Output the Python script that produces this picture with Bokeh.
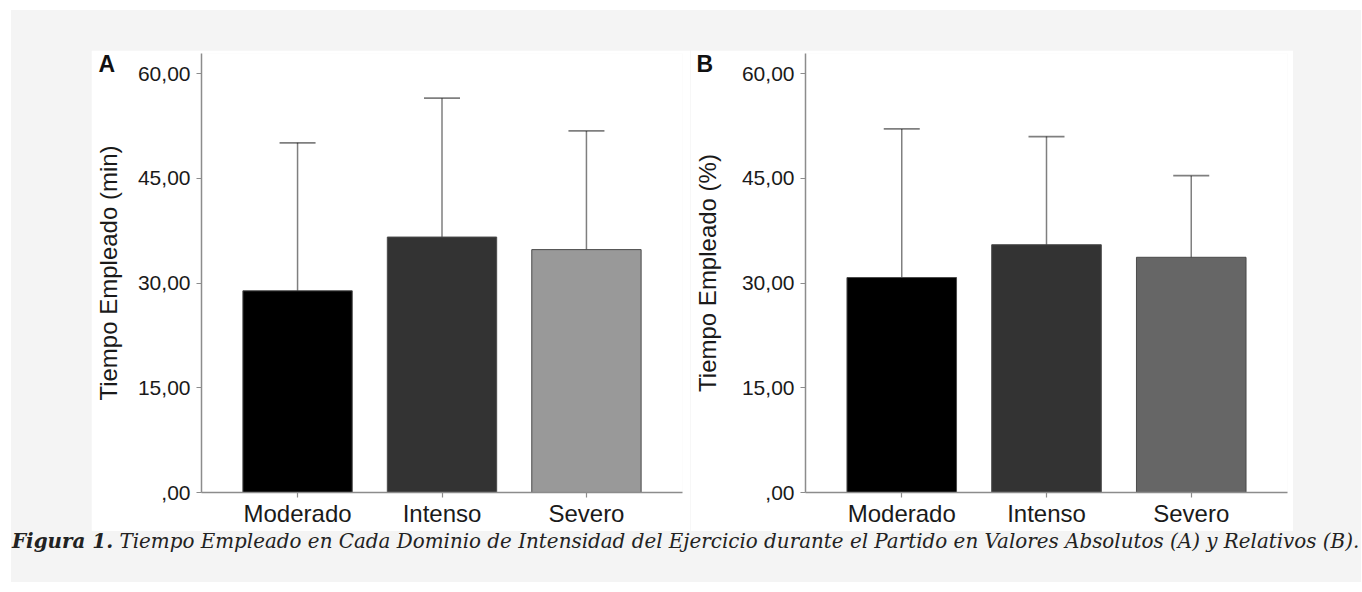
from bokeh.plotting import figure
from bokeh.models import (ColumnDataSource, FactorRange, Range1d, FixedTicker, Whisker,
                          TeeHead, Title, Div, Spacer, Row, Column)
from bokeh.embed import file_html
from bokeh.resources import INLINE

# ---- data ----
categories = ["Moderado", "Intenso", "Severo"]
abs_mean = [28.9, 36.6, 34.8]      # panel A, minutes
abs_sd = [21.2, 19.9, 17.0]
rel_mean = [30.8, 35.5, 33.7]      # panel B, percent
rel_sd = [21.3, 15.5, 11.7]
y_ticks = [0, 15, 30, 45, 60]
y_tick_labels = [",00", "15,00", "30,00", "45,00", "60,00"]
title_a = "Tiempo Empleado (min)"
title_b = "Tiempo Empleado (%)"
caption_bold = "Figura 1."
caption_text = ("Tiempo Empleado en Cada Dominio de Intensidad del Ejercicio durante el "
                "Partido en Valores Absolutos (A) y Relativos (B).")

# ---- styles ----
colors_a = ["#000000", "#333333", "#999999"]
colors_b = ["#000000", "#333333", "#666666"]
AXIS_COL = "#8c8c8c"
FONT = "Liberation Sans"


def panel(width, bl, br, means, sds, colors, ytitle, title_standoff, letter, letter_offset):
    src = ColumnDataSource(dict(
        cat=categories, mean=means,
        upper=[m + s for m, s in zip(means, sds)],
        lower=[m - s for m, s in zip(means, sds)],
        color=colors))
    p = figure(x_range=FactorRange(factors=categories, range_padding=0.11,
                                   range_padding_units="percent"),
               y_range=Range1d(0, 62.9), width=width, height=481,
               output_backend="svg", toolbar_location=None,
               min_border_left=bl, min_border_right=br,
               min_border_top=3, min_border_bottom=39)
    p.vbar(x="cat", top="mean", width=0.757, source=src, fill_color="color",
           line_color="#4a4a4a", line_width=1)
    w = Whisker(source=src, base="cat", upper="upper", lower="lower",
                line_color="black", line_alpha=0.5, line_width=1.5,
                upper_head=TeeHead(size=36, line_color="black", line_alpha=0.5, line_width=1.8),
                lower_head=TeeHead(size=36, line_color="black", line_alpha=0.5, line_width=1.8))
    p.add_layout(w)

    p.xgrid.visible = False
    p.ygrid.visible = False
    p.outline_line_color = None
    p.background_fill_color = "white"
    p.border_fill_color = "white"

    for ax in (p.xaxis[0], p.yaxis[0]):
        ax.axis_line_color = AXIS_COL
        ax.axis_line_width = 1.5
        ax.major_tick_line_color = AXIS_COL
        ax.major_tick_line_width = 1.2
        ax.major_tick_out = 5
        ax.major_tick_in = 0
        ax.minor_tick_out = 0
        ax.minor_tick_in = 0
        ax.major_label_text_font = FONT
        ax.major_label_text_color = "#1a1a1a"
    p.yaxis.ticker = FixedTicker(ticks=y_ticks)
    p.yaxis.major_label_overrides = {t: l for t, l in zip(y_ticks, y_tick_labels)}
    p.yaxis.major_label_text_font_size = "21px"
    p.yaxis.major_label_standoff = 6
    p.xaxis.major_label_text_font_size = "24px"
    p.xaxis.major_label_standoff = 2

    p.yaxis.axis_label = ytitle
    p.yaxis.axis_label_text_font = FONT
    p.yaxis.axis_label_text_font_size = "24px"
    p.yaxis.axis_label_text_font_style = "normal"
    p.yaxis.axis_label_text_color = "#1a1a1a"
    p.yaxis.axis_label_standoff = title_standoff

    p.add_layout(Title(text=letter, align="left", offset=letter_offset, standoff=-46,
                       text_font=FONT, text_font_size="23px", text_font_style="bold",
                       text_color="#111111"), "above")
    return p


pa = panel(599, 107, 8, abs_mean, abs_sd, colors_a, title_a, 13, "A", -103)
pb = panel(603, 113, 6, rel_mean, rel_sd, colors_b, title_b, 18, "B", -109)

cap = Div(text=f"<b>{caption_bold}</b> {caption_text}", width=1349, height=51,
          margin=(0, 0, 0, 1),
          styles={"font-family": "'DejaVu Serif'", "font-style": "italic",
                  "font-size": "19.9px", "color": "#222222",
                  "white-space": "nowrap", "line-height": "21px"})

layout = Column(Spacer(width=1350, height=40),
                Row(Spacer(width=80, height=481), pa, pb),
                cap,
                margin=(10, 0, 0, 11),
                styles={"background-color": "#f4f4f4"})

open("out.html", "w").write(file_html(layout, INLINE))
